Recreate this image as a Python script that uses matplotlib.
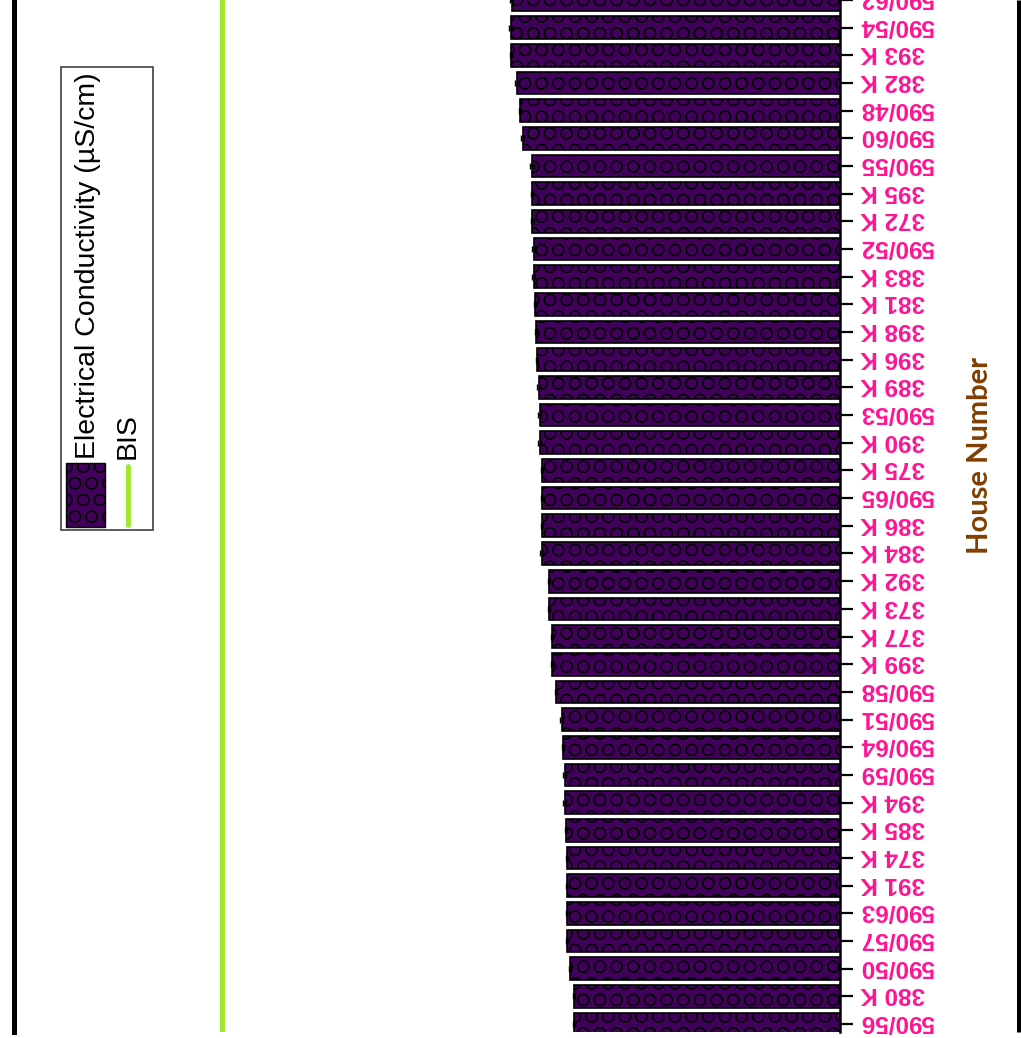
import matplotlib
matplotlib.use('Agg')
import matplotlib.pyplot as plt
from matplotlib.patches import Rectangle
import numpy as np

# ---------------- data ----------------
houses = ["590/62", "590/54", "393 K", "382 K", "590/48", "590/60", "590/55", "395 K",
          "372 K", "590/52", "383 K", "381 K", "398 K", "396 K", "389 K", "590/53",
          "390 K", "375 K", "590/65", "386 K", "384 K", "392 K", "373 K", "377 K",
          "399 K", "590/58", "590/51", "590/64", "590/59", "394 K", "385 K", "374 K",
          "391 K", "590/63", "590/57", "590/50", "380 K", "590/56"]
ec_values = [1594, 1597, 1597, 1568, 1553, 1541, 1495, 1495,
             1493, 1487, 1487, 1481, 1476, 1472, 1461, 1458,
             1458, 1447, 1447, 1447, 1448, 1413, 1413, 1398,
             1398, 1379, 1351, 1345, 1337, 1337, 1330, 1324,
             1324, 1324, 1324, 1311, 1291, 1291]
ec_errors = [6, 8, 6, 8, 6, 6, 8, 6,
             6, 6, 8, 6, 6, 6, 8, 6,
             6, 6, 6, 6, 8, 6, 6, 6,
             6, 6, 6, 6, 6, 6, 6, 6,
             6, 6, 6, 6, 6, 6]
bis_limit = 3000
legend_labels = ["Electrical Conductivity (\u00b5S/cm)", "BIS"]
axis_title = "House Number"

# ---------------- style ----------------
PURPLE = '#41005A'
GREEN = '#A2E632'
PINK = '#FF1493'
BROWN = '#7F3F00'
HATCH = 'O'
plt.rcParams['hatch.linewidth'] = 0.7

W, H = 1021, 1038
fig = plt.figure(figsize=(W / 100, H / 100), dpi=100)
fig.patch.set_facecolor('white')

bottom_px = 1032
ax = fig.add_axes([14 / W, (H - bottom_px) / H, (840 - 14) / W, bottom_px / H])
y = np.arange(len(houses))
ax.barh(y, ec_values, height=0.82, color=PURPLE, edgecolor='black', linewidth=1.2,
        hatch=HATCH, xerr=ec_errors,
        error_kw=dict(ecolor='black', elinewidth=1, capsize=2, capthick=1))
ax.axvline(bis_limit, color=GREEN, lw=3.6, zorder=3)

ax.set_xlim(4010, 0)
ax.set_ylim(37.29, 0.137)
ax.yaxis.tick_right()
ax.set_yticks(y)
ax.set_yticklabels(houses, rotation=180, color=PINK, fontweight='bold', fontsize=17.5,
                   family=['Liberation Sans', 'DejaVu Sans'])
for lab in ax.get_yticklabels():
    lab.set_rotation_mode('anchor')
    lab.set_ha('right')
    lab.set_va('center_baseline')
ax.tick_params(axis='y', length=9, width=1.6, pad=5.5, color='black')
ax.set_xticks([])
ax.spines['top'].set_visible(False)
ax.spines['bottom'].set_visible(False)
ax.spines['left'].set_linewidth(3.6)
ax.spines['right'].set_linewidth(1.8)

# ---------------- overlay (pixel coordinates) ----------------
ov = fig.add_axes([0, 0, 1, 1], facecolor='none')
ov.set_xlim(0, W)
ov.set_ylim(H, 0)
ov.axis('off')

# outer right frame line
ov.plot([1018.5, 1018.5], [0, bottom_px], color='black', lw=3.6, solid_capstyle='butt')

# legend (rotated)
ov.add_patch(Rectangle((61, 67), 92, 463, facecolor='white', edgecolor='#404040', lw=1.2))
ov.add_patch(Rectangle((66, 463), 39, 64, facecolor=PURPLE, edgecolor='black', lw=1.0,
                       hatch=HATCH))
ov.plot([128, 128], [466, 525], color=GREEN, lw=3.6, solid_capstyle='round')
fam = ['Liberation Sans', 'DejaVu Sans']
ov.text(88, 459, legend_labels[0], rotation=90, ha='center', va='bottom',
        fontsize=20.5, family=fam, color='black')
ov.text(127.5, 459, legend_labels[1], rotation=90, ha='center', va='bottom',
        fontsize=20.5, family=fam, color='black')

# axis title
ov.text(980, 455, axis_title, rotation=90, ha='center', va='center', fontsize=21,
        color=BROWN, family=['Lato', 'DejaVu Sans'], fontweight='bold')

fig.savefig('out.png', dpi=100)
